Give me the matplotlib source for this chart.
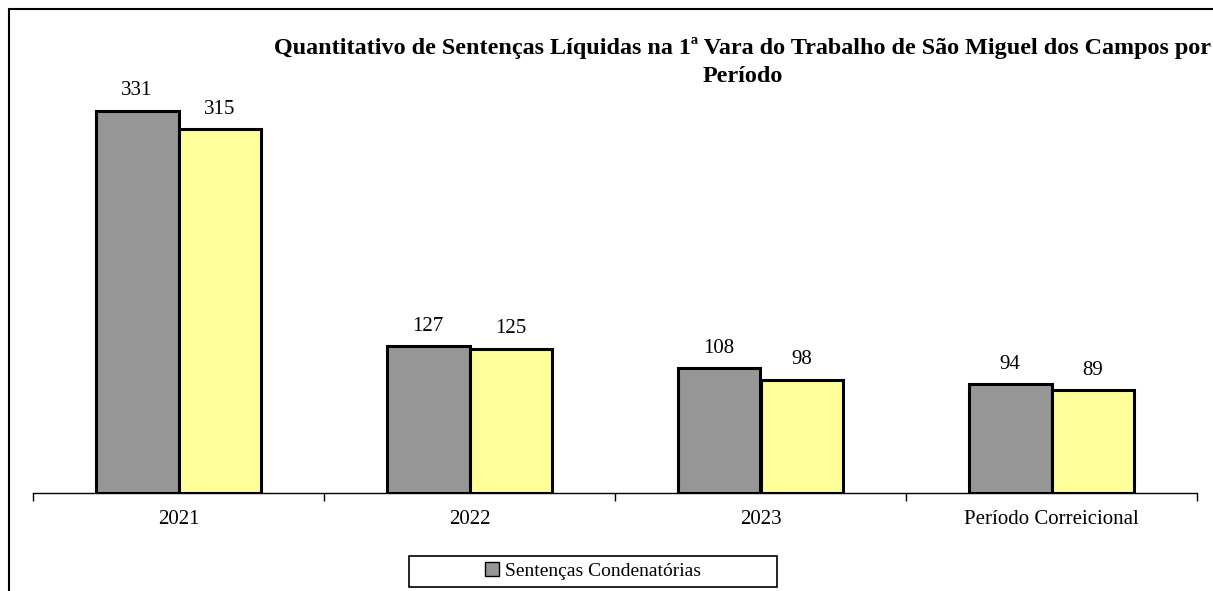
import numpy as np
import matplotlib.pyplot as plt
from matplotlib.patches import Rectangle

categories = ["2021", "2022", "2023", "Período Correicional"]
condenatorias = [331, 127, 108, 94]
liquidas = [315, 125, 98, 89]

W, H = 1213, 591
fig = plt.figure(figsize=(W / 100, H / 100), dpi=100)
plt.rcParams['font.family'] = ['Liberation Serif', 'DejaVu Serif']

# outer frame (only left and top visible in the original)
fig.patches.append(Rectangle((9 / W, -0.1), 1.2, 1 - 9 / H + 0.1, transform=fig.transFigure,
                             fill=False, edgecolor='black', linewidth=1.5))

ax_left, ax_right = 33 / W, 1197 / W
ax_bottom, ax_top = 98 / H, (H - 89) / H
ax = fig.add_axes([ax_left, ax_bottom, ax_right - ax_left, ax_top - ax_bottom])

x = np.arange(len(categories))
bw = 0.285
b1 = ax.bar(x - bw / 2, condenatorias, bw, color='#969696', edgecolor='black', linewidth=2.2,
            label='Sentenças Condenatórias')
b2 = ax.bar(x + bw / 2, liquidas, bw, color='#FFFF99', edgecolor='black', linewidth=2.2)

for bars, vals in ((b1, condenatorias), (b2, liquidas)):
    for r, v in zip(bars, vals):
        ax.annotate(str(v), (r.get_x() + r.get_width() / 2, v), xytext=(0, 14.5),
                    textcoords='offset points', ha='center', va='center', fontsize=15)

ax.set_xlim(-0.5, len(categories) - 0.5)
ax.set_ylim(0, 350)
for s in ('top', 'right', 'left'):
    ax.spines[s].set_visible(False)
ax.spines['bottom'].set_linewidth(1.0)
ax.set_yticks([])
ax.set_xticks(np.arange(-0.5, len(categories), 1.0))
ax.set_xticklabels([])
ax.tick_params(axis='x', length=6, width=1.0, direction='out')
ax.set_xticks(x, minor=True)
ax.set_xticklabels(categories, minor=True, fontsize=15)
ax.tick_params(axis='x', which='minor', length=0, pad=12)

fig.text(743 / W, 1 - 48 / H, "Quantitativo de Sentenças Líquidas na 1ª Vara do Trabalho de São Miguel dos Campos por",
         ha='center', va='center', fontsize=17.4, fontweight='bold')
fig.text(743 / W, 1 - 76 / H, "Período", ha='center', va='center', fontsize=17.4, fontweight='bold')

# legend box drawn separately so it can be wider than its content
fig.patches.append(Rectangle((409 / W, 1 - 587 / H), 368 / W, 31 / H, transform=fig.transFigure,
                             facecolor='white', edgecolor='black', linewidth=1.2))
leg = fig.legend(handles=[b1], loc='center', bbox_to_anchor=(593 / W, 1 - 571 / H),
                 fontsize=14, frameon=False,
                 handlelength=0.7, handleheight=0.7, handletextpad=0.3, borderpad=0.2)
leg.legend_handles[0].set_linewidth(1.0)

fig.savefig('out.png', dpi=100)
